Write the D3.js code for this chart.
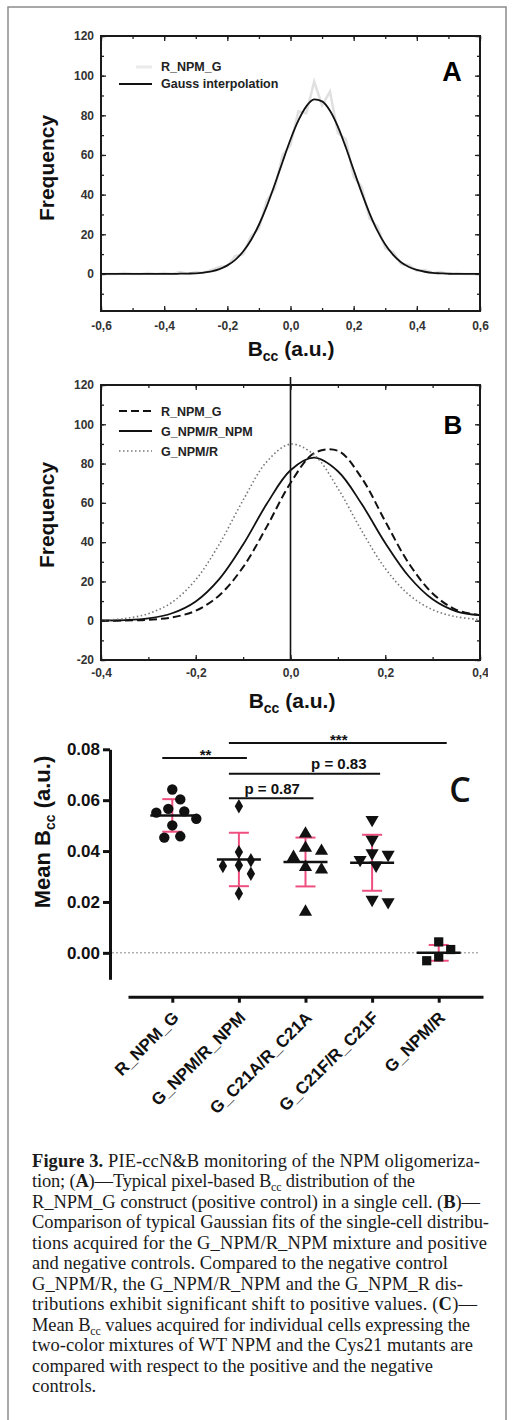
<!DOCTYPE html>
<meta charset="utf-8">
<script src="https://d3js.org/d3.v7.min.js"></script>
<style>
body { margin: 0; background: #fff; }
svg text { font-family: Arial, "Liberation Sans", sans-serif; }
.ab .tick text { font-size: 12px; font-weight: bold; fill: #333; }
.ab .tick line { stroke: #222; stroke-width: 1.3px; }
.ab .domain { stroke: none; }
.cax .tick text { font-size: 17px; font-weight: bold; fill: #111; }
.cax .tick line { stroke: #111; stroke-width: 3px; }
.cax .domain { stroke: #111; stroke-width: 3px; }
.cap { font-family: "Liberation Serif", "DejaVu Serif", serif !important; font-size: 18.5px; fill: #1a1a1a; }
</style>
<body>
<script>

// ---- panel A : pixel histogram and its gauss fit
var bccA = [-0.6,-0.575,-0.55,-0.525,-0.5,-0.475,-0.45,-0.425,-0.4,-0.375,
  -0.35,-0.325,-0.3,-0.275,-0.25,-0.225,-0.2,-0.175,-0.15,-0.125,-0.1,-0.075,-0.05,-0.025,
  0,0.025,0.05,0.075,0.1,0.125,0.15,0.175,0.2,0.225,0.25,0.275,0.3,0.325,0.35,0.375,
  0.4,0.425,0.45,0.475,0.5,0.525,0.55,0.575,0.6];
var histA = [0,0,0,0.5,0,0,0.5,0,0.5,0,
  1,0,1,0.5,2,3.5,4,9,10,19,23,37,43,60,
  65,82,81,97,85,92,71,68,49,44,28,24,13,11,5,4.5,
  1.5,2,0.5,1,0,0.5,0,0,0];
var fitA = [0,0,0,0,0,0,0,0,0,0,
  0.1,0.2,0.3,0.7,1.3,2.4,4.3,7.1,11.3,17.1,24.8,34.2,45.1,56.6,
  67.8,77.4,84.5,88.0,87.0,82.3,74.3,63.9,52.4,41.1,30.7,21.8,14.8,9.6,5.9,3.5,
  2.0,1.1,0.5,0.3,0.1,0,0,0,0];

// ---- panel B : gaussian fits
var bccB = [-0.4,-0.35,-0.3,-0.25,-0.2,-0.15,-0.1,-0.05,0,0.05,0.1,0.15,0.2,0.25,0.3,0.35,0.4];
var fitPos = [0,0.1,0.5,1.7,5.1,13.0,27.3,47.9,70.1,85.3,86.5,72.7,50.6,29.1,13.9,5.5,2.8];      // R_NPM_G
var fitMix = [0.1,0.3,1.2,3.8,9.8,21.3,38.8,59.5,76.6,83.0,76.1,59.5,39.6,22.5,10.9,4.8,2.8];    // G_NPM/R_NPM
var fitNeg = [0.3,1.1,3.6,9.4,20.9,39.1,61.4,81.0,89.9,84.4,67.4,45.9,26.6,13.2,5.6,2.0,0.6];    // G_NPM/R
var seriesB = ["R_NPM_G", "G_NPM/R_NPM", "G_NPM/R"];

// ---- panel C : mean Bcc per cell
var cats = ["R_NPM_G", "G_NPM/R_NPM", "G_C21A/R_C21A", "G_C21F/R_C21F", "G_NPM/R"];
var cellsC = [
  [0.0642, 0.0603, 0.0566, 0.0556, 0.0551, 0.0527, 0.0501, 0.0458, 0.0453],
  [0.0576, 0.0396, 0.0364, 0.0344, 0.0341, 0.0311, 0.0233],
  [0.0468, 0.0412, 0.0400, 0.0376, 0.0337, 0.0327, 0.0161],
  [0.0523, 0.0445, 0.0392, 0.0386, 0.0366, 0.0344, 0.0209, 0.0200],
  [0.0043, 0.0013, -0.0016, -0.0031]
];
var meansC = [0.0540, 0.0367, 0.0357, 0.0354, 0.0000];
var sdC = [0.0064, 0.0105, 0.0096, 0.0110, 0.0031];
var yTicksC = [0, 0.02, 0.04, 0.06, 0.08];
var comps = [
  {a: "R_NPM_G", b: "G_NPM/R_NPM", label: "**", level: 0.0766, over: ["R_NPM_G", "G_NPM/R_NPM"]},
  {a: "G_NPM/R_NPM", b: "G_NPM/R", label: "***", level: 0.0825, over: ["G_NPM/R_NPM", "G_NPM/R"]},
  {a: "G_NPM/R_NPM", b: "G_C21F/R_C21F", label: "p = 0.83", level: 0.0704, over: ["G_C21A/R_C21A", "G_C21F/R_C21F"]},
  {a: "G_NPM/R_NPM", b: "G_C21A/R_C21A", label: "p = 0.87", level: 0.0608, over: ["G_NPM/R_NPM", "G_C21A/R_C21A"]}
];

var svg = d3.select("body").append("svg")
    .attr("width", 515)
    .attr("height", 1420);

// grey figure frame
svg.append("path")
    .attr("d", "M8,1420V7H506V1420")
    .attr("fill", "none")
    .attr("stroke", "#8c8c8c")
    .attr("stroke-width", 1.5);

function commaFmt(d) { return d.toFixed(1).replace(".", ","); }

// boxed axes with inward ticks on all four sides
function boxAxes(g, x, y, xMinor, xMajor, yMinor, yMajor, xPad) {
  var xr = x.range(), yr = y.range();
  var sides = [
    [function() { return d3.axisBottom(x); }, "translate(0," + yr[0] + ")", xMinor, xMajor, commaFmt, xPad],
    [function() { return d3.axisTop(x); }, "translate(0," + yr[1] + ")", xMinor, xMajor, null, 0],
    [function() { return d3.axisLeft(y); }, "translate(" + xr[0] + ",0)", yMinor, yMajor, function(d) { return String(d); }, 7],
    [function() { return d3.axisRight(y); }, "translate(" + xr[1] + ",0)", yMinor, yMajor, null, 0]
  ];
  sides.forEach(function(s) {
    g.append("g").attr("transform", s[1])
      .call(s[0]().tickValues(s[2]).tickSize(-3).tickSizeOuter(0).tickFormat(""));
    g.append("g").attr("transform", s[1])
      .call(s[0]().tickValues(s[3]).tickSize(-5).tickSizeOuter(0).tickPadding(s[5])
        .tickFormat(s[4] ? s[4] : ""));
  });
  g.append("rect")
      .attr("x", xr[0]).attr("y", yr[1])
      .attr("width", xr[1] - xr[0]).attr("height", yr[0] - yr[1])
      .attr("fill", "none").attr("stroke", "#1a1a1a").attr("stroke-width", 2);
}

function bccTitle(g, cx, y) {
  var t = g.append("text").attr("x", cx).attr("y", y)
      .attr("text-anchor", "middle").style("font-size", "21px").style("font-weight", "bold").attr("fill", "#111");
  t.append("tspan").text("B");
  t.append("tspan").attr("dy", 5).style("font-size", "14px").text("cc");
  t.append("tspan").attr("dy", -5).text(" (a.u.)");
}

function freqTitle(g, cy) {
  g.append("text")
      .attr("transform", "translate(54," + cy + ") rotate(-90)")
      .attr("text-anchor", "middle")
      .style("font-size", "21px").style("font-weight", "bold").attr("fill", "#111")
      .text("Frequency");
}

// ================= panel A
var gA = svg.append("g").attr("class", "ab");
var xA = d3.scaleLinear().domain([-0.6, 0.6]).range([101, 480]);
var yA = d3.scaleLinear().domain([-18.7, 120]).range([311, 36]);

var lineA = d3.line()
    .x(function(d) { return xA(d[0]); })
    .y(function(d) { return yA(d[1]); });

gA.append("path")
    .datum(d3.zip(bccA, histA))
    .attr("d", lineA.curve(d3.curveLinear))
    .attr("fill", "none").attr("stroke", "#e0e0e0").attr("stroke-width", 2.5);

gA.append("path")
    .datum(d3.zip(bccA, fitA))
    .attr("d", lineA.curve(d3.curveMonotoneX))
    .attr("fill", "none").attr("stroke", "#111").attr("stroke-width", 1.8);

boxAxes(gA, xA, yA,
  d3.range(-6, 7).map(function(d) { return d / 10; }),
  d3.range(-6, 7, 2).map(function(d) { return d / 10; }),
  d3.range(-10, 121, 10), d3.range(0, 121, 20), 10);

// legend A
gA.append("line").attr("x1", 136).attr("x2", 152).attr("y1", 67).attr("y2", 67)
    .attr("stroke", "#ebebeb").attr("stroke-width", 3);
gA.append("text").attr("x", 161).attr("y", 71).style("font-size", "12.5px").style("font-weight", "bold")
    .attr("fill", "#222").text("R_NPM_G");
gA.append("line").attr("x1", 119).attr("x2", 152).attr("y1", 84).attr("y2", 84)
    .attr("stroke", "#111").attr("stroke-width", 1.8);
gA.append("text").attr("x", 161).attr("y", 88).style("font-size", "12.5px").style("font-weight", "bold")
    .attr("fill", "#222").text("Gauss interpolation");

gA.append("text").attr("x", 452).attr("y", 81).attr("text-anchor", "middle")
    .style("font-size", "27px").style("font-weight", "bold").text("A");

bccTitle(gA, 291, 356);
freqTitle(gA, 168);

// ================= panel B
svg.append("clipPath").attr("id", "clipB")
  .append("rect").attr("x", 0).attr("y", 360).attr("width", 488).attr("height", 370);
var gB = svg.append("g").attr("class", "ab").attr("clip-path", "url(#clipB)");
var xB = d3.scaleLinear().domain([-0.4, 0.4]).range([101, 480]);
var yB = d3.scaleLinear().domain([-20, 120]).range([660, 385]);

var lineB = d3.line()
    .x(function(d) { return xB(d[0]); })
    .y(function(d) { return yB(d[1]); })
    .curve(d3.curveCatmullRom.alpha(0.5));

var stylesB = [
  {dash: "8,4", color: "#111", w: 2},
  {dash: null, color: "#111", w: 1.8},
  {dash: "1.5,2.5", color: "#777", w: 1.6}
];
[fitPos, fitMix, fitNeg].forEach(function(vals, i) {
  gB.append("path")
      .datum(d3.zip(bccB, vals))
      .attr("d", lineB)
      .attr("fill", "none")
      .attr("stroke", stylesB[i].color)
      .attr("stroke-width", stylesB[i].w)
      .attr("stroke-dasharray", stylesB[i].dash);
});

// vertical reference at Bcc = 0
gB.append("line")
    .attr("x1", xB(0)).attr("x2", xB(0))
    .attr("y1", yB(-20)).attr("y2", yB.range()[1] - 8)
    .attr("stroke", "#111").attr("stroke-width", 1.6);

boxAxes(gB, xB, yB,
  d3.range(-4, 5).map(function(d) { return d / 10; }),
  d3.range(-4, 5, 2).map(function(d) { return d / 10; }),
  d3.range(-20, 121, 10), d3.range(-20, 121, 20), 8.5);

// legend B
seriesB.forEach(function(name, i) {
  var ly = 411 + i * 20;
  gB.append("line").attr("x1", 119).attr("x2", 152).attr("y1", ly).attr("y2", ly)
      .attr("stroke", stylesB[i].color).attr("stroke-width", stylesB[i].w)
      .attr("stroke-dasharray", stylesB[i].dash);
  gB.append("text").attr("x", 161).attr("y", ly + 4.5)
      .style("font-size", "12.5px").style("font-weight", "bold").attr("fill", "#222").text(name);
});

gB.append("text").attr("x", 453).attr("y", 434).attr("text-anchor", "middle")
    .style("font-size", "26px").style("font-weight", "bold").text("B");

bccTitle(svg, 292, 708);
freqTitle(svg, 515);

// ================= panel C
var gC = svg.append("g");
var xC = d3.scalePoint().domain(cats).range([128, 483]).padding(0.665);
var yC = d3.scaleLinear().domain([-0.0104, 0.08]).range([979.3, 749.3]);

// dotted zero line
gC.append("line")
    .attr("x1", 112).attr("x2", 480)
    .attr("y1", yC(0)).attr("y2", yC(0))
    .attr("stroke", "#8a8a8a").attr("stroke-width", 1).attr("stroke-dasharray", "2,2");

gC.append("g").attr("class", "cax")
    .attr("transform", "translate(110,0)")
    .call(d3.axisLeft(yC).tickValues(yTicksC).tickSize(7).tickSizeOuter(0).tickPadding(3)
      .tickFormat(d3.format(".2f")));

var xAxC = gC.append("g").attr("class", "cax")
    .attr("transform", "translate(0,996.7)")
    .call(d3.axisBottom(xC).tickSize(6).tickSizeOuter(0));
xAxC.selectAll(".tick text")
    .attr("x", 0).attr("y", 0).attr("dy", 0)
    .attr("text-anchor", "end")
    .attr("transform", "translate(7,22) rotate(-45)")
    .style("font-size", "17px");

// y title
var yt = gC.append("text")
    .attr("transform", "translate(50,832) rotate(-90)")
    .attr("text-anchor", "middle")
    .style("font-size", "22px").style("font-weight", "bold").attr("fill", "#111");
yt.append("tspan").text("Mean B");
yt.append("tspan").attr("dy", 5).style("font-size", "14px").text("cc");
yt.append("tspan").attr("dy", -5).text(" (a.u.)");

// mean and SD
var pink = "#ef4f7f";
cats.forEach(function(c, i) {
  var cx = xC(c);
  var top = yC(meansC[i] + sdC[i]), bot = yC(meansC[i] - sdC[i]);
  gC.append("line").attr("x1", cx).attr("x2", cx).attr("y1", top).attr("y2", bot)
      .attr("stroke", pink).attr("stroke-width", 2);
  [top, bot].forEach(function(yy) {
    gC.append("line").attr("x1", cx - 10).attr("x2", cx + 10).attr("y1", yy).attr("y2", yy)
        .attr("stroke", pink).attr("stroke-width", 2);
  });
  gC.append("line").attr("x1", cx - 22).attr("x2", cx + 22)
      .attr("y1", yC(meansC[i])).attr("y2", yC(meansC[i]))
      .attr("stroke", "#111").attr("stroke-width", 2.5);
});

// simple swarm so points of similar value sit side by side
function swarm(vals, cx, minDist) {
  var placed = [];
  var order = vals.map(function(v, i) { return i; })
      .sort(function(a, b) { return vals[b] - vals[a]; });
  var out = [];
  order.forEach(function(i) {
    var py = yC(vals[i]), px = cx;
    var cands = [0];
    for (var k = 1; k < 12; k++) cands.push(k * 4, -k * 4);
    for (var j = 0; j < cands.length; j++) {
      px = cx + cands[j];
      var ok = placed.every(function(p) { return Math.hypot(p[0] - px, p[1] - py) >= minDist; });
      if (ok) break;
    }
    placed.push([px, py]);
    out[i] = [px, py];
  });
  return out;
}

var shapes = [
  {type: d3.symbolCircle, size: 85, rot: 0},
  {type: d3.symbolDiamond, size: 60, rot: 0},
  {type: d3.symbolTriangle, size: 75, rot: 0},
  {type: d3.symbolTriangle, size: 75, rot: 180},
  {type: d3.symbolSquare, size: 85, rot: 0}
];
cellsC.forEach(function(vals, i) {
  var pts = swarm(vals, xC(cats[i]), 12.5);
  gC.selectAll(".p" + i)
    .data(pts)
    .enter().append("path")
      .attr("class", "p" + i)
      .attr("d", d3.symbol().type(shapes[i].type).size(shapes[i].size))
      .attr("transform", function(d) { return "translate(" + d[0] + "," + d[1] + ") rotate(" + shapes[i].rot + ")"; })
      .attr("fill", "#111");
});

// significance bars
comps.forEach(function(cp) {
  var x1 = xC(cp.a) - 10, x2 = xC(cp.b) + 8, yy = yC(cp.level);
  gC.append("line").attr("x1", x1).attr("x2", x2).attr("y1", yy).attr("y2", yy)
      .attr("stroke", "#111").attr("stroke-width", 2);
  var stars = cp.label.charAt(0) === "*";
  gC.append("text")
      .attr("x", (xC(cp.over[0]) + xC(cp.over[1])) / 2)
      .attr("y", stars ? yy + 2 : yy - 4.5)
      .attr("text-anchor", "middle")
      .style("font-size", "15px").style("font-weight", "bold").attr("fill", "#111")
      .text(cp.label);
});

gC.append("text").attr("x", 460).attr("y", 802).attr("text-anchor", "middle")
    .style("font-family", "'Open Sans', sans-serif")
    .style("font-size", "34px").style("font-weight", "600").attr("fill", "#111").text("C");

// ================= caption
var capLines = [
  [["Figure 3.", "b"], [" PIE-ccN&B monitoring of the NPM oligomeriza-"]],
  [["tion; ("], ["A", "b"], [")\u2014Typical pixel-based B"], ["cc", "sub"], [" distribution of the"]],
  [["R_NPM_G construct (positive control) in a single cell. ("], ["B", "b"], [")\u2014"]],
  [["Comparison of typical Gaussian fits of the single-cell distribu-"]],
  [["tions acquired for the G_NPM/R_NPM mixture and positive"]],
  [["and negative controls. Compared to the negative control"]],
  [["G_NPM/R, the G_NPM/R_NPM and the G_NPM_R dis-"]],
  [["tributions exhibit significant shift to positive values. ("], ["C", "b"], [")\u2014"]],
  [["Mean B"], ["cc", "sub"], [" values acquired for individual cells expressing the"]],
  [["two-color mixtures of WT NPM and the Cys21 mutants are"]],
  [["compared with respect to the positive and the negative"]],
  [["controls."]]
];
var capEnds = [480, 415, 480, 489, 487, 448, 463, 477, 470, 473, 433, null];

capLines.forEach(function(segs, i) {
  var t = svg.append("text").attr("class", "cap")
      .attr("x", 32).attr("y", 1166.7 + i * 20.5);
  if (capEnds[i]) t.attr("textLength", capEnds[i] - 32).attr("lengthAdjust", "spacing");
  var wasSub = false;
  segs.forEach(function(s) {
    var ts = t.append("tspan").text(s[0]);
    if (s[1] === "b") ts.attr("font-weight", "bold");
    if (s[1] === "sub") { ts.style("font-size", "12px").attr("dy", 4); wasSub = true; }
    else if (wasSub) { ts.attr("dy", -4); wasSub = false; }
  });
});

</script>
</body>
